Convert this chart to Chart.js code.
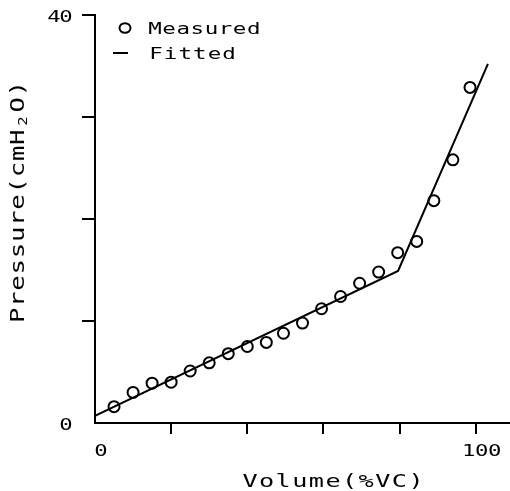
<!DOCTYPE html>
<html>
<head>
<meta charset="utf-8">
<script src="https://cdn.jsdelivr.net/npm/chart.js@4/dist/chart.umd.min.js"></script>
<style>
  html, body { margin: 0; padding: 0; background: #fff; overflow: hidden; }
  #wrap { width: 510px; height: 491px; }
</style>
</head>
<body>
<div id="wrap"><canvas id="chart"></canvas></div>
<script>
// measured points
const volume = [5, 10, 15, 20, 25, 30, 35, 40, 45, 49.5, 54.5, 59.5, 64.5, 69.5, 74.5, 79.5, 84.5, 89, 94, 98.5];
const pressure = [1.6, 3.0, 3.9, 4.0, 5.1, 5.9, 6.8, 7.5, 7.9, 8.8, 9.8, 11.2, 12.4, 13.7, 14.8, 16.7, 17.8, 21.8, 25.8, 32.9];

// fitted two-segment line
const fitVolume = [0, 79.6, 103.2];
const fitPressure = [0.7, 14.9, 35.2];

const xTicks = [0, 20, 40, 60, 80, 100];
const xLabels = [0, 100];
const yLabels = [0, 40];

const FONT = '"DejaVu Sans Mono", monospace';

// plotter style text: each char in a fixed cell, stretched sideways
// x0 = centre of the first char, y = baseline
function glyphs(ctx, text, x0, y, adv, size, sx) {
  ctx.font = size + 'px ' + FONT;
  ctx.textAlign = 'center';
  ctx.textBaseline = 'alphabetic';
  for (let i = 0; i < text.length; i++) {
    ctx.save();
    ctx.translate(x0 + adv * i, y);
    ctx.scale(sx, 1);
    ctx.fillText(text[i], 0, 0);
    ctx.restore();
  }
}

const textPlugin = {
  id: 'plotterText',
  afterDraw(chart) {
    const ctx = chart.ctx;
    const xs = chart.scales.x, ys = chart.scales.y;
    ctx.save();
    ctx.fillStyle = '#000';
    ctx.strokeStyle = '#000';

    // tick labels
    yLabels.forEach(v => {
      const t = String(v);
      glyphs(ctx, t, 66 - 12 * (t.length - 1), ys.getPixelForValue(v) + 6.5, 12, 16.5, 1.35);
    });
    xLabels.forEach(v => {
      const t = String(v);
      const c = xs.getPixelForValue(v) + 6;
      glyphs(ctx, t, c - 13 * (t.length - 1) / 2, 456, 13, 16.5, 1.35);
    });

    // x title
    glyphs(ctx, 'Volume(%VC)', 250, 487, 16.6, 18, 1.4);

    // y title, rotated, with subscript 2
    ctx.save();
    ctx.translate(17, 202);
    ctx.rotate(-Math.PI / 2);
    const yt = 'Pressure(cmH2O)';
    const adv = 16.2;
    const first = -adv * (yt.length - 1) / 2;
    for (let i = 0; i < yt.length; i++) {
      if (i === 12) {
        glyphs(ctx, yt[i], first + adv * i, 10, adv, 12, 1.3);
      } else {
        glyphs(ctx, yt[i], first + adv * i, 7, adv, 19, 1.35);
      }
    }
    ctx.restore();

    // legend
    ctx.lineWidth = 2;
    ctx.beginPath();
    ctx.ellipse(125, 28, 5.5, 4.8, 0, 0, Math.PI * 2);
    ctx.stroke();
    glyphs(ctx, 'Measured', 155, 33.5, 14.1, 15, 1.5);
    ctx.beginPath();
    ctx.moveTo(113, 53);
    ctx.lineTo(128, 53);
    ctx.stroke();
    glyphs(ctx, 'Fitted', 156, 58.5, 14.6, 15, 1.5);
    ctx.restore();
  }
};

new Chart(document.getElementById('chart'), {
  type: 'scatter',
  data: {
    datasets: [
      {
        label: 'Measured',
        data: volume.map((v, i) => ({ x: v, y: pressure[i] })),
        pointStyle: 'circle',
        pointRadius: 5.5,
        pointBorderWidth: 2,
        pointBorderColor: '#000',
        pointBackgroundColor: 'rgba(255,255,255,0)',
        showLine: false
      },
      {
        label: 'Fitted',
        data: fitVolume.map((v, i) => ({ x: v, y: fitPressure[i] })),
        showLine: true,
        borderColor: '#000',
        borderWidth: 2,
        pointRadius: 0,
        tension: 0
      }
    ]
  },
  options: {
    responsive: true,
    maintainAspectRatio: false,
    animation: false,
    layout: { autoPadding: false, padding: { top: 15, right: 0, left: 0, bottom: 0 } },
    plugins: { legend: { display: false }, tooltip: { enabled: false } },
    scales: {
      x: {
        type: 'linear',
        min: 0,
        max: 109,
        afterBuildTicks: axis => { axis.ticks = xTicks.map(v => ({ value: v })); },
        afterFit: axis => { axis.height = 68; },
        ticks: { display: false },
        grid: {
          drawOnChartArea: false,
          drawTicks: true,
          tickLength: 11,
          lineWidth: 2,
          color: c => (c.tick && c.tick.value === 0 ? 'rgba(0,0,0,0)' : '#000')
        },
        border: { display: true, color: '#000', width: 2 }
      },
      y: {
        type: 'linear',
        min: 0,
        max: 40,
        ticks: { display: false, stepSize: 10 },
        afterFit: axis => { axis.width = 95; },
        grid: {
          drawOnChartArea: false,
          drawTicks: true,
          tickLength: 13,
          lineWidth: 2,
          color: c => (c.tick && c.tick.value === 0 ? 'rgba(0,0,0,0)' : '#000')
        },
        border: { display: true, color: '#000', width: 2 }
      }
    }
  },
  plugins: [textPlugin]
});
</script>
</body>
</html>
